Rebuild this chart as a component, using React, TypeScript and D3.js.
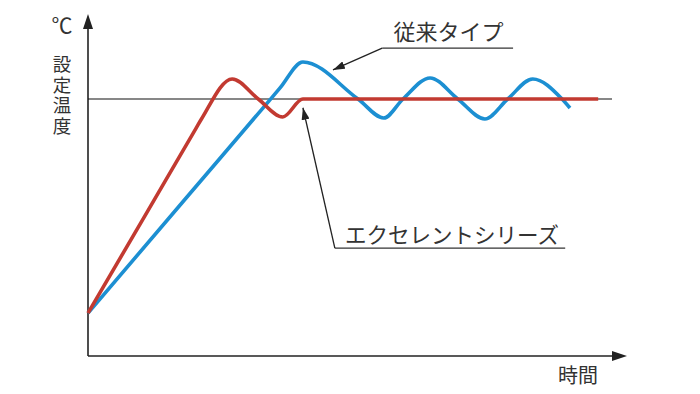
import React from "react";
import * as d3 from "d3";

// Data (time units 0..100, temperature % of set point)
const setPoint = 100;
const blueTime = [0, 18, 34, 36.1, 40.4, 50.75, 55.6, 59.2, 64.3, 69.5, 74.6, 78.9, 83.6, 89.1, 90.6];
const blueTemp = [16.7, 60.4, 99.2, 104.3, 114.4, 100, 92.6, 100, 108.2, 100, 92.2, 100, 107.8, 100, 96.5];
const redTime = [0, 11, 20.3, 21.3, 27.1, 32.0, 36.6, 40.4, 60, 80, 95.9];
const redTemp = [16.7, 55.6, 88.6, 92.1, 107.8, 100, 93.0, 100, 100, 100, 100];

const labelConventional = "従来タイプ";
const labelExcellent = "エクセレントシリーズ";
const yLabelUnit = "℃";
const yLabelText = "設定温度";
const xLabel = "時間";

const W = 700;
const H = 394;

export default function App() {
  const x = d3.scaleLinear().domain([0, 100]).range([88, 620]);
  const y = d3.scaleLinear().domain([0, 100]).range([356, 99]);

  const line = d3
    .line<[number, number]>()
    .x((d) => x(d[0]))
    .y((d) => y(d[1]))
    .curve(d3.curveMonotoneX);

  const blue = blueTime.map((t, i) => [t, blueTemp[i]] as [number, number]);
  const red = redTime.map((t, i) => [t, redTemp[i]] as [number, number]);

  const font = "'Noto Sans CJK JP', 'Noto Sans', sans-serif";
  const textColor = "#333";
  const axisColor = "#222";

  const x0 = x(0);
  const yBase = y(0);

  // annotation anchors in data units
  const convTip = [46.05, 111.3];
  const convLeft = [55.3, 119.8];
  const convRight = [79.9, 119.8];
  const excTip = [40.4, 96.6];
  const excLeft = [46.4, 42.0];
  const excRight = [89.7, 42.0];

  return (
    <svg
      width={W}
      height={H}
      style={{ position: "absolute", left: 0, top: 0, background: "#fff" }}
    >
      <defs>
        <marker
          id="ah"
          viewBox="0 0 12 8"
          refX="12"
          refY="4"
          markerWidth="12"
          markerHeight="8"
          markerUnits="userSpaceOnUse"
          orient="auto"
        >
          <path d="M0,0 L12,4 L0,8 Z" fill="#222" />
        </marker>
      </defs>

      {/* axes */}
      <line x1={x0} y1={yBase} x2={x0} y2={26} stroke={axisColor} strokeWidth={1.6} />
      <path d={`M${x0},14 L${x0 - 5},29 L${x0 + 5},29 Z`} fill={axisColor} />
      <line x1={x0} y1={yBase} x2={614} y2={yBase} stroke={axisColor} strokeWidth={1.6} />
      <path d={`M627,${yBase} L612,${yBase - 5} L612,${yBase + 5} Z`} fill={axisColor} />

      {/* set point line */}
      <line x1={x0} y1={y(setPoint)} x2={612} y2={y(setPoint)} stroke="#111" strokeWidth={1.2} />

      {/* curves */}
      <path d={line(blue) || ""} fill="none" stroke="#1c8fd2" strokeWidth={3.6} strokeLinejoin="round" strokeLinecap="butt" />
      <path d={line(red) || ""} fill="none" stroke="#c23a31" strokeWidth={3.6} strokeLinejoin="round" strokeLinecap="butt" />

      {/* annotation: conventional */}
      <line
        x1={x(convRight[0])}
        y1={y(convRight[1])}
        x2={x(convLeft[0])}
        y2={y(convLeft[1])}
        stroke="#333"
        strokeWidth={1.2}
      />
      <line
        x1={x(convLeft[0])}
        y1={y(convLeft[1])}
        x2={x(convTip[0])}
        y2={y(convTip[1])}
        stroke="#222"
        strokeWidth={1.3}
        markerEnd="url(#ah)"
      />
      <text
        x={(x(convLeft[0]) + x(convRight[0])) / 2 + 1}
        y={40}
        textAnchor="middle"
        fontFamily={font}
        fontSize={22}
        fill={textColor}
      >
        {labelConventional}
      </text>

      {/* annotation: excellent */}
      <line
        x1={x(excRight[0])}
        y1={y(excRight[1])}
        x2={x(excLeft[0])}
        y2={y(excLeft[1])}
        stroke="#333"
        strokeWidth={1.2}
      />
      <line
        x1={x(excLeft[0])}
        y1={y(excLeft[1])}
        x2={x(excTip[0])}
        y2={y(excTip[1])}
        stroke="#222"
        strokeWidth={1.3}
        markerEnd="url(#ah)"
      />
      <text
        x={(x(excLeft[0]) + x(excRight[0])) / 2 + 2}
        y={243}
        textAnchor="middle"
        fontFamily={font}
        fontSize={21.5}
        fill={textColor}
      >
        {labelExcellent}
      </text>

      {/* y label */}
      <text x={62} y={33} textAnchor="middle" fontFamily={font} fontSize={21} fill={textColor}>
        {yLabelUnit}
      </text>
      <text
        x={62}
        y={55}
        fontFamily={font}
        fontSize={18.5}
        letterSpacing={2}
        fill={textColor}
        style={{ writingMode: "vertical-rl" }}
      >
        {yLabelText}
      </text>

      {/* x label */}
      <text x={578} y={383} textAnchor="middle" fontFamily={font} fontSize={20} fill={textColor}>
        {xLabel}
      </text>
    </svg>
  );
}
